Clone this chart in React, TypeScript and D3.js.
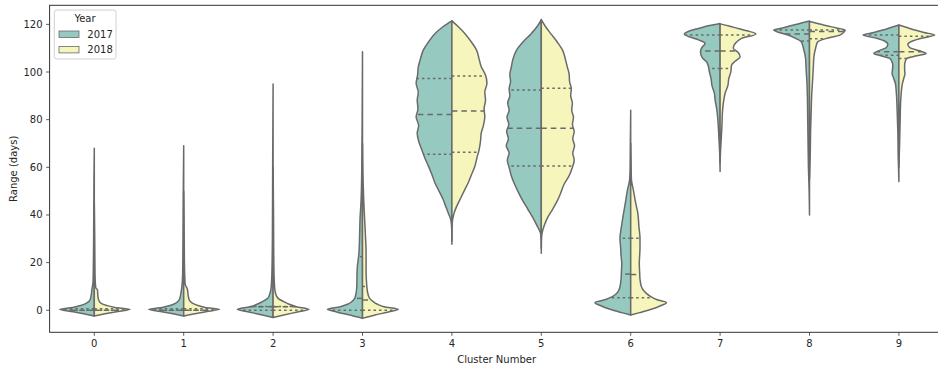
import React from "react";
import * as d3 from "d3";

// cluster categories and hue levels
const clusters = ["0", "1", "2", "3", "4", "5", "6", "7", "8", "9"];
const years = ["2017", "2018"];
const yearColors = ["#96cac1", "#f6f6bc"];
const yTicks = [0, 20, 40, 60, 80, 100, 120];

// violin outlines: [value, relative half width]
const shape2017: [number, number][][] = [
  [[-2.4, 0], [-1.5, 0.3], [-0.5, 0.65], [0.4, 0.97], [1.2, 0.6], [2, 0.38], [2.9, 0.23], [4, 0.13], [6, 0.09], [8.5, 0.07], [12, 0.035], [20, 0.025], [40, 0.015], [55, 0.01], [68, 0]],
  [[-2.4, 0], [-1.5, 0.3], [-0.5, 0.65], [0.4, 0.98], [1.2, 0.6], [2, 0.38], [3, 0.22], [4.5, 0.12], [7, 0.08], [10, 0.05], [15, 0.03], [30, 0.02], [50, 0.012], [69, 0]],
  [[-3, 0], [-2, 0.3], [-0.8, 0.65], [0.4, 1.0], [1.5, 0.65], [2.5, 0.45], [3.6, 0.3], [5, 0.15], [7, 0.09], [9, 0.06], [15, 0.035], [30, 0.02], [60, 0.012], [95, 0]],
  [[-3.4, 0], [-2, 0.35], [-0.8, 0.7], [0.4, 0.98], [1.5, 0.62], [2.5, 0.42], [3.6, 0.3], [5, 0.22], [6.4, 0.19], [10, 0.16], [17, 0.15], [24, 0.1], [32, 0.08], [38, 0.07], [46, 0.04], [59, 0.02], [80, 0.01], [108.5, 0]],
  [[27.7, 0], [34, 0.005], [37.9, 0.03], [40.7, 0.1], [43.5, 0.17], [46.3, 0.24], [50, 0.36], [53.3, 0.47], [57, 0.56], [60.3, 0.65], [64, 0.76], [67.3, 0.84], [71, 0.93], [74.3, 0.97], [77.5, 0.93], [81.2, 1.0], [84.5, 0.95], [88.3, 0.97], [91.5, 0.94], [95.3, 1.0], [98.7, 0.96], [102.2, 0.94], [105.5, 0.88], [109.2, 0.8], [112.5, 0.66], [116.2, 0.47], [119, 0.25], [121.5, 0]],
  [[23.9, 0], [29, 0.005], [32.3, 0.02], [35.5, 0.12], [39, 0.24], [42.5, 0.38], [46, 0.52], [49.5, 0.64], [53, 0.75], [56.5, 0.84], [60, 0.9], [63, 0.95], [66, 0.9], [69, 0.98], [72, 0.92], [75, 0.97], [78, 0.91], [81, 0.96], [84, 0.9], [87, 0.94], [90, 0.88], [93, 0.9], [96, 0.86], [99, 0.88], [102, 0.84], [105, 0.8], [109, 0.7], [112.5, 0.52], [116, 0.29], [119, 0.12], [122, 0]],
  [[-2, 0], [-1, 0.25], [0.5, 0.6], [2, 0.85], [3.2, 1.0], [4.5, 0.7], [5.8, 0.5], [7.1, 0.39], [8.5, 0.33], [9.9, 0.3], [13, 0.27], [16, 0.26], [19.7, 0.25], [23, 0.27], [26, 0.28], [30.2, 0.3], [35, 0.26], [40.7, 0.2], [45, 0.15], [50.5, 0.09], [54.7, 0.03], [60, 0.015], [70, 0.01], [84, 0]],
  [[58.2, 0], [65, 0.01], [71.5, 0.03], [77, 0.05], [84, 0.09], [88.3, 0.14], [91.1, 0.16], [94.5, 0.23], [97, 0.25], [100.1, 0.3], [102.5, 0.33], [104.3, 0.38], [106, 0.5], [108.5, 0.55], [110.5, 0.5], [112, 0.42], [113.5, 0.6], [115.8, 1.0], [117.5, 0.8], [118.3, 0.6], [119.5, 0.3], [120.4, 0]],
  [[40, 0], [50, 0.01], [60, 0.03], [70, 0.04], [80, 0.05], [90, 0.06], [95, 0.07], [100.1, 0.09], [103, 0.1], [105.8, 0.11], [110, 0.17], [112.7, 0.23], [114.2, 0.4], [115.5, 0.6], [116.6, 0.85], [117.6, 1.0], [118.5, 0.75], [119.5, 0.5], [120.5, 0.25], [121.4, 0]],
  [[54, 0], [65, 0.02], [75, 0.03], [84, 0.05], [91, 0.07], [95.3, 0.1], [97.5, 0.15], [99.4, 0.19], [101, 0.18], [102.9, 0.17], [104.5, 0.2], [105.7, 0.26], [106.8, 0.5], [107.8, 0.7], [109, 0.55], [110.3, 0.35], [111.6, 0.31], [113, 0.4], [114.1, 0.6], [115.5, 1.0], [116.6, 0.7], [117.6, 0.45], [118.8, 0.2], [119.7, 0]],
];

const shape2018: [number, number][][] = [
  [[-2.4, 0], [-1.5, 0.3], [-0.5, 0.66], [0.4, 1.0], [1.2, 0.58], [2, 0.35], [2.9, 0.19], [4, 0.13], [6, 0.1], [8.5, 0.09], [9.5, 0.04], [15, 0.02], [30, 0.012], [45, 0]],
  [[-2.4, 0], [-1.5, 0.3], [-0.5, 0.65], [0.4, 1.0], [1.2, 0.6], [2, 0.4], [3, 0.24], [4.5, 0.15], [7, 0.12], [9, 0.1], [11, 0.04], [20, 0.02], [35, 0.012], [50, 0]],
  [[-3, 0], [-2, 0.3], [-0.8, 0.65], [0.4, 1.0], [1.5, 0.65], [2.5, 0.45], [3.6, 0.3], [5, 0.14], [7, 0.07], [10, 0.04], [20, 0.02], [40, 0.012], [60, 0]],
  [[-3.4, 0], [-2, 0.35], [-0.8, 0.7], [0.4, 1.0], [1.5, 0.6], [2.5, 0.42], [3.6, 0.3], [5, 0.2], [6.4, 0.16], [10, 0.12], [17, 0.1], [24, 0.1], [32, 0.08], [38, 0.06], [46, 0.035], [55, 0.015], [70, 0]],
  [[29, 0], [35, 0.005], [38, 0.02], [40.7, 0.06], [43.5, 0.13], [46.3, 0.22], [50, 0.34], [53.3, 0.45], [57, 0.55], [60.3, 0.64], [64, 0.7], [67.3, 0.76], [71, 0.8], [74.3, 0.82], [77.5, 0.88], [81.2, 0.92], [84.5, 0.9], [88.3, 0.94], [91.5, 0.92], [95.3, 0.98], [98.7, 0.94], [102.2, 0.82], [105.5, 0.76], [109.2, 0.69], [112.5, 0.55], [116.2, 0.36], [119, 0.18], [121.5, 0]],
  [[26, 0], [30, 0.005], [32.3, 0.02], [35.5, 0.08], [39, 0.18], [42.5, 0.32], [46, 0.45], [49.5, 0.55], [53, 0.64], [56.5, 0.78], [60, 0.87], [63, 0.92], [66, 0.88], [69, 0.93], [72, 0.88], [75, 0.92], [78, 0.87], [81, 0.9], [84, 0.85], [87, 0.87], [90, 0.82], [93, 0.84], [96, 0.79], [99, 0.78], [102, 0.73], [105, 0.68], [109, 0.6], [112.5, 0.45], [116, 0.27], [119, 0.12], [122, 0]],
  [[-2, 0], [-1, 0.25], [0.5, 0.6], [2, 0.85], [3.2, 1.0], [4.5, 0.72], [5.8, 0.55], [7.1, 0.44], [8.5, 0.35], [9.9, 0.3], [13, 0.26], [16, 0.25], [19.7, 0.24], [23, 0.25], [26, 0.26], [30.2, 0.26], [35, 0.23], [40.7, 0.2], [45, 0.14], [50, 0.08], [55, 0.02], [62, 0.01], [70, 0]],
  [[62, 0], [66, 0.01], [71.5, 0.03], [77, 0.05], [84, 0.07], [88, 0.1], [91.1, 0.14], [94.5, 0.22], [97, 0.24], [100.1, 0.3], [102.9, 0.32], [104.5, 0.42], [106.4, 0.56], [108.3, 0.5], [110, 0.37], [111.5, 0.4], [112.7, 0.47], [114.1, 0.6], [116, 1.0], [117.3, 0.75], [118.3, 0.5], [119.3, 0.25], [120.2, 0]],
  [[55, 0], [65, 0.02], [75, 0.03], [85, 0.05], [90, 0.06], [95, 0.08], [100.1, 0.1], [103, 0.11], [106, 0.12], [110, 0.17], [112.7, 0.23], [114, 0.45], [115.5, 0.85], [116.6, 0.95], [117.6, 1.0], [118.5, 0.75], [119.5, 0.45], [120.5, 0.2], [121.2, 0]],
  [[60, 0], [70, 0.02], [80, 0.035], [88, 0.05], [92, 0.07], [95.3, 0.1], [97.5, 0.14], [99.4, 0.17], [101, 0.16], [102.9, 0.16], [104.5, 0.18], [105.7, 0.22], [106.8, 0.5], [107.8, 0.76], [109, 0.55], [110.3, 0.3], [111.6, 0.25], [113, 0.38], [114.1, 0.6], [115.5, 1.0], [116.6, 0.7], [117.6, 0.45], [118.8, 0.2], [119.7, 0]],
];

// [q1, median, q3]
const quartiles2017 = [
  [0, 0, 0.6], [0, 0, 0.6], [0, 1.5, 1.6], [0, 5, 22.5], [65.5, 82.2, 97.3],
  [60.5, 76.4, 92.4], [5.3, 15.2, 30.2], [101.5, 108.8, 115.5], [113, 116, 117.6], [107, 108.5, 115.5],
];
const quartiles2018 = [
  [0, 0, 0.6], [0, 0, 0.6], [0, 1.5, 1.6], [0, 4.3, 10], [66.3, 83.6, 98.3],
  [60.5, 76.4, 93.2], [5.3, 15, 30.2], [101.5, 108.8, 115.5], [114, 117, 117.6], [105.7, 108.5, 115],
];

const shapes = [shape2017, shape2018];
const quartiles = [quartiles2017, quartiles2018];

const width = 938;
const height = 366;
const margin = { top: 5.3, right: -5.6, bottom: 33.7, left: 49.6 };
const edge = "#6a6a6a";
const font = "'DejaVu Sans', sans-serif";

const widthAt = (profile: [number, number][], v: number) => {
  for (let i = 1; i < profile.length; i++) {
    const [v0, w0] = profile[i - 1];
    const [v1, w1] = profile[i];
    if (v >= v0 && v <= v1) return v1 === v0 ? w1 : w0 + ((w1 - w0) * (v - v0)) / (v1 - v0);
  }
  return 0;
};

export default function App() {
  const x = d3.scaleBand().domain(clusters).range([margin.left, width - margin.right]).padding(0);
  const y = d3.scaleLinear().domain([-9.25, 128]).range([height - margin.bottom, margin.top]);
  const half = x.bandwidth() * 0.4;
  const x0 = margin.left;
  const x1 = width - margin.right;
  const y0 = height - margin.bottom;

  return (
    <svg width={width} height={height} style={{ position: "absolute", left: 0, top: 0 }} fontFamily={font}>
      <rect width={width} height={height} fill="#fff" />

      {clusters.map((c, ci) => {
        const cx = x(c)! + x.bandwidth() / 2;
        return (
          <g key={c}>
            {years.map((yr, yi) => {
              const sign = yi === 0 ? -1 : 1;
              const pts = shapes[yi][ci].slice().reverse();
              const area = d3
                .area<[number, number]>()
                .curve(d3.curveMonotoneY)
                .y((d) => y(d[0]))
                .x0(cx)
                .x1((d) => cx + sign * d[1] * half);
              return (
                <path key={yr} d={area(pts) || ""} fill={yearColors[yi]} stroke={edge} strokeWidth={1.5} strokeLinejoin="round" />
              );
            })}
            {years.map((yr, yi) => {
              const sign = yi === 0 ? -1 : 1;
              return quartiles[yi][ci].map((q, qi) => {
                const w = widthAt(shapes[yi][ci], q) * half;
                return (
                  <line
                    key={yr + qi}
                    x1={cx}
                    x2={cx + sign * w}
                    y1={y(q)}
                    y2={y(q)}
                    stroke={edge}
                    strokeWidth={1.5}
                    strokeDasharray={qi === 1 ? "5.5,4" : "2.5,3"}
                  />
                );
              });
            })}
          </g>
        );
      })}

      {/* axes frame */}
      <rect x={x0} y={margin.top} width={x1 - x0} height={y0 - margin.top} fill="none" stroke="#333" strokeWidth={1} />

      {yTicks.map((t) => (
        <g key={t} transform={`translate(0,${y(t)})`}>
          <line x1={x0 - 3.5} x2={x0} stroke="#333" strokeWidth={0.8} />
          <text x={x0 - 7} dy="0.35em" textAnchor="end" fontSize={10} fill="#262626">
            {t}
          </text>
        </g>
      ))}
      {clusters.map((c) => {
        const cx = x(c)! + x.bandwidth() / 2;
        return (
          <g key={c} transform={`translate(${cx},${y0})`}>
            <line y1={0} y2={3.5} stroke="#333" strokeWidth={0.8} />
            <text y={14.5} textAnchor="middle" fontSize={10} fill="#262626">
              {c}
            </text>
          </g>
        );
      })}

      <text x={(x0 + x1) / 2} y={362.5} textAnchor="middle" fontSize={10} fill="#262626">
        Cluster Number
      </text>
      <text transform={`translate(13,${(margin.top + y0) / 2}) rotate(-90)`} dy="0.35em" textAnchor="middle" fontSize={10} fill="#262626">
        Range (days)
      </text>

      {/* legend */}
      <g>
        <rect x={54.3} y={10} width={61.7} height={49} rx={2.5} fill="#fff" fillOpacity={0.8} stroke="#d0d0d0" strokeWidth={1} />
        <text x={85} y={18.3} dy="0.35em" textAnchor="middle" fontSize={10} fill="#262626">
          Year
        </text>
        {years.map((yr, i) => (
          <g key={yr} transform={`translate(0,${i * 15.4})`}>
            <rect x={59} y={31} width={20} height={6.5} fill={yearColors[i]} stroke={edge} strokeWidth={0.8} />
            <text x={87.3} y={34.2} dy="0.35em" fontSize={10} fill="#262626">
              {yr}
            </text>
          </g>
        ))}
      </g>
    </svg>
  );
}
